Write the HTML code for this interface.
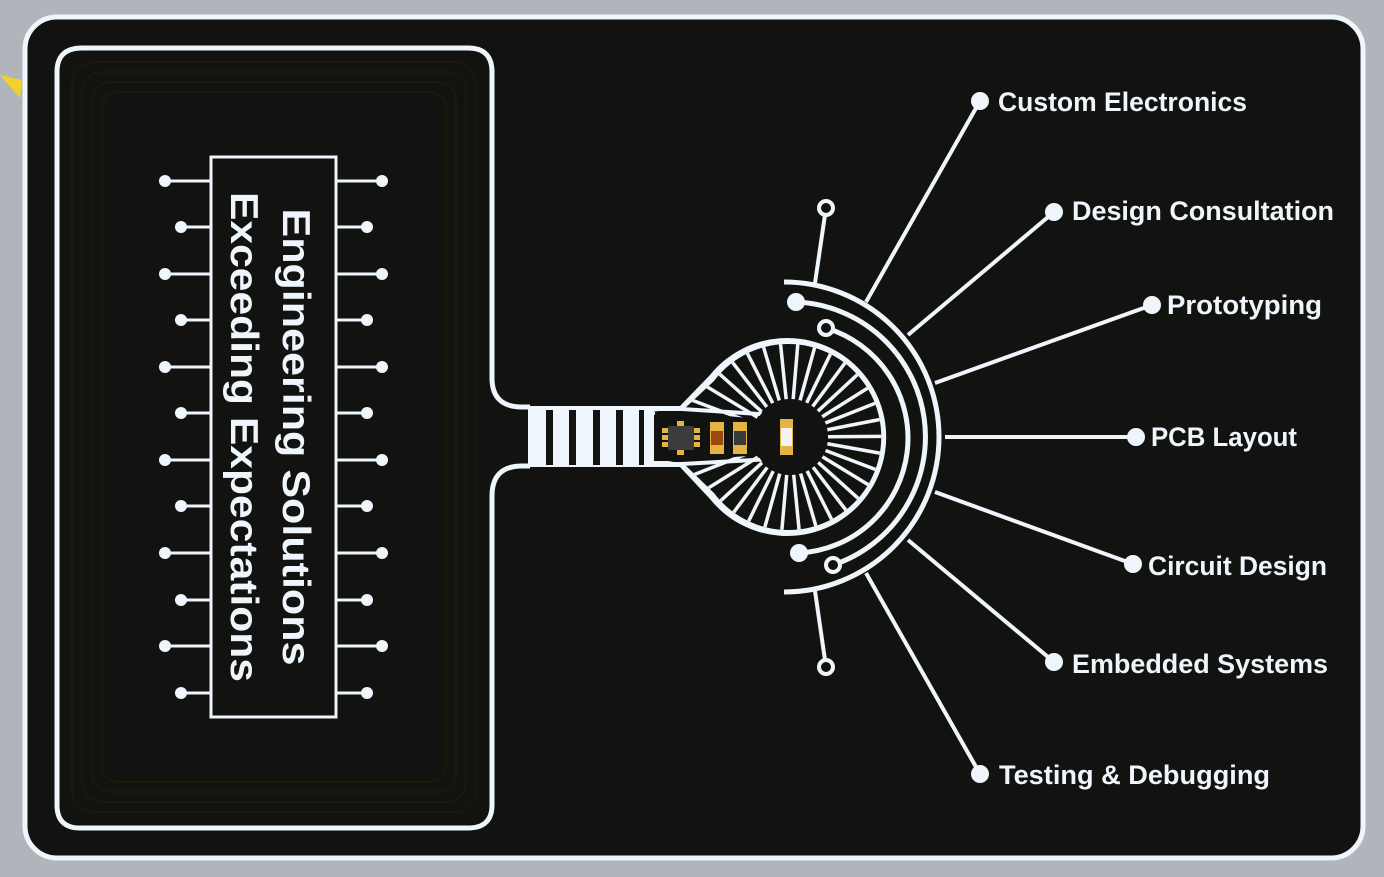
<!DOCTYPE html>
<html><head><meta charset="utf-8"><style>
html,body{margin:0;padding:0;background:#b0b5bb;}
svg{display:block;}
text{font-family:"Liberation Sans",sans-serif;font-weight:bold;fill:#eef6fb;}
</style></head><body>
<svg id="s" width="1384" height="877" viewBox="0 0 1384 877">
<defs><clipPath id="fanclip"><path d="M654,411 L682,411 L714,381 A93,93 0 1 1 714,493 L682,462 L654,462 Z"/></clipPath></defs>
<rect x="0" y="0" width="1384" height="877" fill="#b0b5bb"/>
<polygon points="0,75 20,98 22,80" fill="#f2d22a"/>
<rect x="25" y="17" width="1338" height="841" rx="32" fill="#121210" stroke="#eef6fb" stroke-width="5"/>
<g fill="none" stroke="#1c1808" stroke-width="2">
<rect x="72" y="62" width="404" height="750" rx="22"/>
<rect x="82" y="72" width="384" height="730" rx="20"/>
<rect x="92" y="82" width="364" height="710" rx="18"/>
<rect x="102" y="92" width="344" height="690" rx="16"/>
</g>
<path d="M492,70 L492,378 Q492,407 522,407 L530,407 M530,466 L522,466 Q492,466 492,496 L492,805 Q492,828 468,828 L80,828 Q57,828 57,805 L57,72 Q57,48 82,48 L468,48 Q492,48 492,72" fill="none" stroke="#eef6fb" stroke-width="5"/>
<rect x="211" y="157" width="125" height="560" fill="none" stroke="#eef6fb" stroke-width="3"/>
<g id="pins"></g>
<text transform="translate(283,437) rotate(90)" text-anchor="middle" font-size="39" textLength="457" lengthAdjust="spacingAndGlyphs">Engineering Solutions</text>
<text transform="translate(231,437) rotate(90)" text-anchor="middle" font-size="39" textLength="490" lengthAdjust="spacingAndGlyphs">Exceeding Expectations</text>
<rect x="528" y="406" width="124" height="61" fill="#eef6fb"/>
<g fill="#121210">
<rect x="546" y="410" width="7" height="55"/><rect x="569" y="410" width="7" height="55"/><rect x="593" y="410" width="7" height="55"/><rect x="616" y="410" width="7" height="55"/><rect x="639" y="410" width="5" height="55"/>
</g>
<path d="M650,406 L680,406 L710,375 A99,99 0 1 1 710,499 L680,467 L650,467 Z" fill="#eef6fb"/>
<path d="M654,411 L682,411 L714,381 A93,93 0 1 1 714,493 L682,462 L654,462 Z" fill="#121210"/>
<g id="spokes" stroke="#eef6fb" stroke-width="3.5" clip-path="url(#fanclip)"></g>
<path d="M682,409 L790,416 M682,464 L790,458" stroke="#eef6fb" stroke-width="4"/>
<path d="M655,412 L682,412 L760,419 L760,455 L682,461 L655,461 Z" fill="#121210"/>
<circle cx="790" cy="437" r="37" fill="#121210"/>
<g>
<rect x="668" y="426" width="26" height="24" fill="#3c3c3c" rx="2"/>
<g fill="#e3b440"><rect x="662" y="428" width="6" height="5"/><rect x="662" y="435" width="6" height="5"/><rect x="662" y="442" width="6" height="5"/><rect x="694" y="428" width="6" height="5"/><rect x="694" y="435" width="6" height="5"/><rect x="694" y="442" width="6" height="5"/><rect x="677" y="421" width="7" height="5"/><rect x="677" y="450" width="7" height="5"/></g>
<rect x="710" y="422" width="14" height="32" fill="#e3b440"/><rect x="711" y="431" width="12" height="14" fill="#9a4a0a"/>
<rect x="733" y="422" width="14" height="32" fill="#e3b440"/><rect x="734" y="431" width="12" height="14" fill="#3a3a3a"/>
<rect x="780" y="419" width="13" height="36" fill="#e3b440"/><rect x="781" y="428" width="11" height="18" fill="#f3f3f3"/>
</g>
<g fill="none" stroke="#eef6fb" stroke-width="5">
<path d="M784,282 A155,155 0 0 1 784,592"/>
<path d="M796,302 A135,135 0 0 1 833,565"/>
<path d="M826,328 A115,115 0 0 1 799,553"/>
</g>
<g stroke="#eef6fb" stroke-width="4">
<line x1="866" y1="302" x2="980" y2="101"/>
<line x1="908" y1="335" x2="1054" y2="212"/>
<line x1="935" y1="383" x2="1152" y2="305"/>
<line x1="945" y1="437" x2="1136" y2="437"/>
<line x1="935" y1="492" x2="1133" y2="564"/>
<line x1="908" y1="540" x2="1054" y2="662"/>
<line x1="866" y1="573" x2="980" y2="774"/>
<line x1="826" y1="208" x2="815" y2="283"/>
<line x1="826" y1="667" x2="815" y2="591"/>
</g>
<g fill="#eef6fb">
<circle cx="980" cy="101" r="9"/><circle cx="1054" cy="212" r="9"/><circle cx="1152" cy="305" r="9"/><circle cx="1136" cy="437" r="9"/><circle cx="1133" cy="564" r="9"/><circle cx="1054" cy="662" r="9"/><circle cx="980" cy="774" r="9"/>
<circle cx="796" cy="302" r="9"/><circle cx="799" cy="553" r="9"/>
</g>
<g fill="#121210" stroke="#eef6fb" stroke-width="4">
<circle cx="826" cy="208" r="7"/><circle cx="826" cy="667" r="7"/><circle cx="826" cy="328" r="7"/><circle cx="833" cy="565" r="7"/>
</g>
<g font-size="27">
<text x="998" y="111" textLength="249" lengthAdjust="spacingAndGlyphs">Custom Electronics</text>
<text x="1072" y="220" textLength="262" lengthAdjust="spacingAndGlyphs">Design Consultation</text>
<text x="1167" y="314" textLength="155" lengthAdjust="spacingAndGlyphs">Prototyping</text>
<text x="1151" y="446" textLength="146" lengthAdjust="spacingAndGlyphs">PCB Layout</text>
<text x="1148" y="575" textLength="179" lengthAdjust="spacingAndGlyphs">Circuit Design</text>
<text x="1072" y="673" textLength="256" lengthAdjust="spacingAndGlyphs">Embedded Systems</text>
<text x="999" y="784" textLength="271" lengthAdjust="spacingAndGlyphs">Testing &amp; Debugging</text>
</g>
</svg>
<script>
var NS='http://www.w3.org/2000/svg';
var pinYs=[181,227,274,320,367,413,460,506,553,600,646,693];
var pins=document.getElementById('pins');
pinYs.forEach(function(y,i){
  var long=(i%2===0);
  var lx=long?165:181, rx=long?382:367;
  [[lx,211],[336,rx]].forEach(function(p,k){
    var l=document.createElementNS(NS,'line');
    l.setAttribute('x1',p[0]);l.setAttribute('x2',p[1]);l.setAttribute('y1',y);l.setAttribute('y2',y);
    l.setAttribute('stroke','#eef6fb');l.setAttribute('stroke-width','3');
    
    
    pins.appendChild(l);
    var c=document.createElementNS(NS,'circle');
    c.setAttribute('cx',k===0?lx:rx);c.setAttribute('cy',y);c.setAttribute('r','6');c.setAttribute('fill','#eef6fb');
    
    
    pins.appendChild(c);
  });
});
var sp=document.getElementById('spokes');
for(var a=-170;a<=170;a+=10.6){
  var r=a*Math.PI/180;
  var l=document.createElementNS(NS,'line');
  l.setAttribute('x1',790+38*Math.cos(r));l.setAttribute('y1',437+38*Math.sin(r));
  l.setAttribute('x2',790+140*Math.cos(r));l.setAttribute('y2',437+140*Math.sin(r));
  
  
  sp.appendChild(l);
}
</script>
</body></html>
